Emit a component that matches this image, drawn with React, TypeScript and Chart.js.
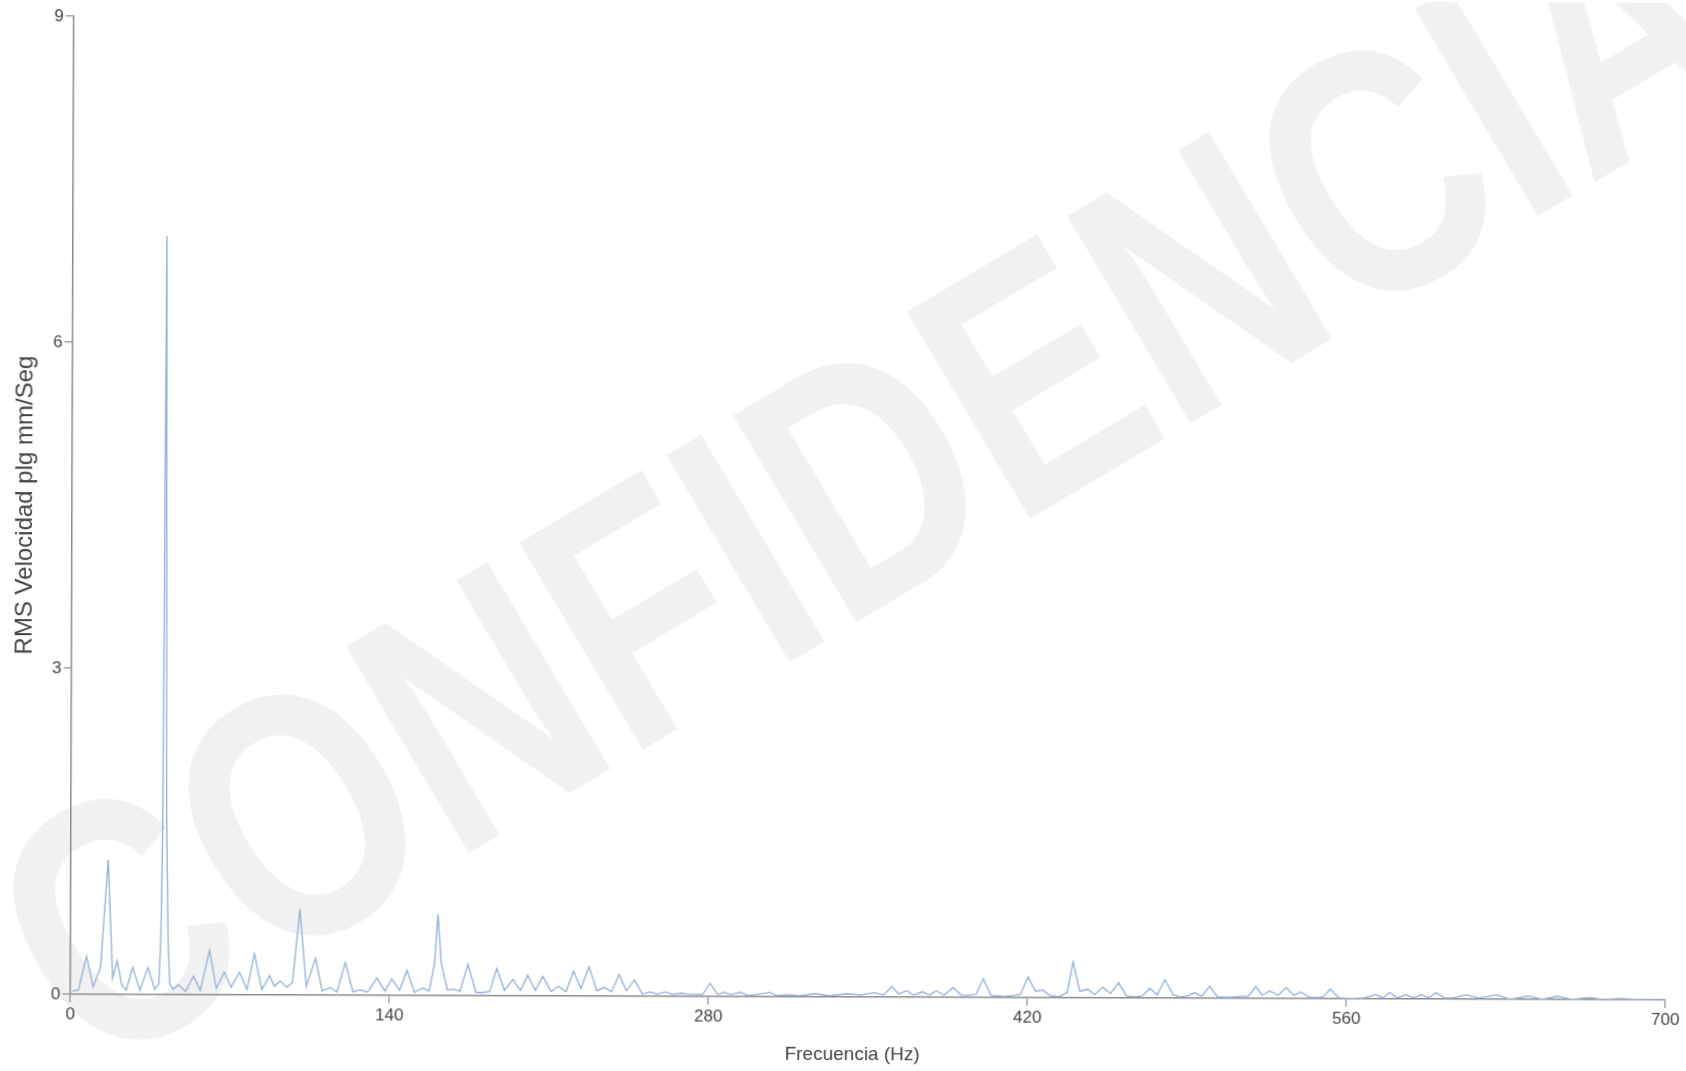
import React, { useEffect, useRef } from "react";
import { Chart, registerables } from "chart.js";

Chart.register(...registerables);

// Frequency (Hz) of each sampled point of the spectrum line
const FREQ_HZ: number[] = [
  1, 3.5, 7, 10, 13.2, 16.4, 18.5, 20.5, 22.5, 24.5, 27.3, 30.5, 34, 37,
  38.8, 39.6, 40.3, 41.2, 42, 42.8, 43.6, 45, 47.5, 50.5, 54, 57, 61, 64,
  67.5, 70.5, 74.2, 77.5, 80.7, 84, 87.4, 89.5, 92, 95, 97.5, 100.6, 103.5,
  107.5, 110.5, 114, 117, 120.6, 124, 127, 130.5, 134.5, 138, 141, 144.5,
  147.7, 151, 154.5, 157.5, 159.8, 161.2, 162.7, 165.5, 168, 171, 174.4, 178,
  181, 184, 187.1, 190.5, 194.2, 197.5, 200.7, 204, 207.3, 211, 214.2, 217.5,
  220.8, 224, 227.6, 231, 234.2, 237.5, 240.8, 244, 247.5, 251, 254.4, 257.5,
  261, 264.5, 268, 271.5, 274.5, 277.5, 280.7, 284, 287, 290, 294, 297.5, 301,
  307, 310, 314, 320, 327, 333, 341, 347, 353, 357, 360.4, 363.5, 367, 370,
  374, 377, 380, 383.5, 387.4, 391, 394, 397.5, 400.6, 404, 410, 414, 417,
  420.3, 423.5, 426.8, 430, 434, 437.5, 440, 443, 446.5, 449.5, 453.1, 456.5,
  460, 463.5, 467, 470.5, 473.7, 477, 480.3, 484, 487, 490, 493.4, 496.5, 500,
  503.5, 507, 510, 514, 517, 520.2, 523, 526.4, 530, 533.6, 537, 540, 544, 548,
  550, 553, 556.5, 562, 568, 573, 576, 579, 582.5, 586, 589.5, 593, 596, 599.4,
  603, 607, 612.6, 618, 626, 632, 640, 646, 652.6, 659, 667, 672, 680, 690, 700,
];

// RMS velocity amplitude at each frequency above
const RMS_VEL: number[] = [
  0.03, 0.04, 0.35, 0.07, 0.25, 1.24, 0.15, 0.31, 0.09, 0.04, 0.25, 0.04, 0.25, 0.05,
  0.1, 0.5, 1.6, 6.98, 1.6, 0.5, 0.1, 0.05, 0.09, 0.03, 0.17, 0.04, 0.41, 0.06,
  0.21, 0.07, 0.21, 0.05, 0.38, 0.05, 0.18, 0.08, 0.13, 0.07, 0.12, 0.79, 0.08,
  0.34, 0.04, 0.07, 0.03, 0.3, 0.03, 0.05, 0.03, 0.16, 0.04, 0.15, 0.05,
  0.23, 0.03, 0.07, 0.04, 0.3, 0.75, 0.3, 0.05, 0.06, 0.04, 0.29, 0.03,
  0.03, 0.04, 0.25, 0.05, 0.15, 0.05, 0.19, 0.05, 0.18, 0.04, 0.09, 0.04,
  0.23, 0.07, 0.27, 0.05, 0.08, 0.04, 0.2, 0.05, 0.15, 0.02, 0.04, 0.02,
  0.04, 0.02, 0.03, 0.02, 0.02, 0.02, 0.12, 0.02, 0.04, 0.02, 0.04, 0.01, 0.02,
  0.04, 0.01, 0.02, 0.01, 0.03, 0.01, 0.03, 0.02, 0.04, 0.02, 0.1, 0.03, 0.06, 0.02,
  0.05, 0.02, 0.06, 0.02, 0.09, 0.02, 0.02, 0.03, 0.17, 0.02, 0.01, 0.02, 0.03,
  0.19, 0.06, 0.07, 0.02, 0.01, 0.05, 0.33, 0.06, 0.08, 0.03, 0.1, 0.04,
  0.14, 0.02, 0.01, 0.02, 0.09, 0.03, 0.17, 0.03, 0.01, 0.02, 0.05, 0.02, 0.11,
  0.01, 0.01, 0.01, 0.02, 0.02, 0.11, 0.03, 0.07, 0.03, 0.1, 0.03, 0.06, 0.01, 0.01,
  0.02, 0.09, 0.01, 0.0, 0.01, 0.04, 0.01, 0.06, 0.01, 0.04, 0.01, 0.04, 0.01, 0.06,
  0.01, 0.01, 0.04, 0.01, 0.04, 0.0, 0.03, 0.0, 0.03, 0.0, 0.02, 0.0, 0.01, 0.0, 0.0,
];

const X_TICKS: number[] = [0, 140, 280, 420, 560, 700];
const Y_TICKS: number[] = [0, 3, 6, 9];
const X_TITLE = "Frecuencia (Hz)";
const Y_TITLE = "RMS Velocidad plg mm/Seg";
const WATERMARK = "CONFIDENCIAL";

const FONT = '"Liberation Sans", Arial, Helvetica, sans-serif';

export default function App() {
  const canvasRef = useRef<HTMLCanvasElement | null>(null);

  useEffect(() => {
    const canvas = canvasRef.current;
    if (!canvas) return;

    const watermarkPlugin = {
      id: "watermark",
      beforeDraw(chart: any) {
        const ctx = chart.ctx as CanvasRenderingContext2D;
        ctx.save();
        ctx.fillStyle = "#ffffff";
        ctx.fillRect(0, 0, chart.width, chart.height);
        ctx.translate(951, 453);
        ctx.rotate((-31 * Math.PI) / 180);
        ctx.scale(0.8, 1);
        ctx.font = `bold 350px ${FONT}`;
        ctx.fillStyle = "#f1f1f1";
        ctx.textAlign = "center";
        ctx.textBaseline = "middle";
        ctx.fillText(WATERMARK, 0, 0);
        ctx.restore();
      },
      afterDraw(chart: any) {
        const ctx = chart.ctx as CanvasRenderingContext2D;
        ctx.save();
        ctx.font = `19px ${FONT}`;
        ctx.fillStyle = "#444444";
        ctx.textAlign = "center";
        ctx.textBaseline = "middle";
        ctx.fillText(X_TITLE, 854, 1055);
        ctx.restore();
      },
    };

    const axisColor = "#8c8c8c";

    const chart = new Chart(canvas, {
      type: "line",
      data: {
        datasets: [
          {
            data: FREQ_HZ.map((x, i) => ({ x, y: RMS_VEL[i] })),
            borderColor: "#90aed6",
            borderWidth: 1.3,
            pointRadius: 0,
            tension: 0,
            fill: false,
          },
        ],
      },
      options: {
        animation: false,
        responsive: false,
        maintainAspectRatio: false,
        layout: { padding: { left: 0, top: 19, right: 19, bottom: 0 } },
        plugins: {
          legend: { display: false },
          tooltip: { enabled: false },
        },
        scales: {
          x: {
            type: "linear",
            min: 0,
            max: 700,
            afterBuildTicks: (s: any) => {
              s.ticks = X_TICKS.map((v) => ({ value: v }));
            },
            afterFit: (s: any) => {
              s.height = 74;
            },
            grid: {
              drawOnChartArea: false,
              drawTicks: true,
              tickLength: 8,
              color: axisColor,
              lineWidth: 1.2,
            },
            border: { display: true, color: axisColor, width: 1.5 },
            ticks: {
              font: { family: FONT, size: 17 },
              color: "#444444",
              padding: 2,
              maxRotation: 0,
            },
            title: { display: false, text: X_TITLE },
          },
          y: {
            type: "linear",
            min: 0,
            max: 9,
            afterBuildTicks: (s: any) => {
              s.ticks = Y_TICKS.map((v) => ({ value: v }));
            },
            afterFit: (s: any) => {
              s.width = 72;
            },
            grid: {
              drawOnChartArea: false,
              drawTicks: true,
              tickLength: 8,
              color: axisColor,
              lineWidth: 1.2,
            },
            border: { display: true, color: axisColor, width: 1.5 },
            ticks: {
              font: { family: FONT, size: 17 },
              color: "#444444",
              padding: 2,
            },
            title: {
              display: true,
              text: Y_TITLE,
              font: { family: FONT, size: 24 },
              color: "#444444",
              padding: { top: 11, bottom: 0 },
            },
          },
        },
      },
      plugins: [watermarkPlugin],
    });

    return () => chart.destroy();
  }, []);

  return (
    <div
      style={{
        position: "fixed",
        left: 0,
        top: 0,
        width: 1686,
        height: 1071,
        background: "#ffffff",
        overflow: "hidden",
      }}
    >
      <canvas
        ref={canvasRef}
        width={1686}
        height={1071}
        style={{ width: 1686, height: 1071, transform: "rotate(0.2deg)" }}
      />
    </div>
  );
}
